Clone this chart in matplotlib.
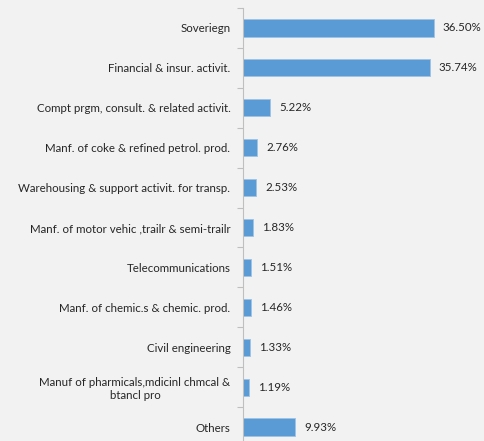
import matplotlib.pyplot as plt

categories = [
    "Soveriegn",
    "Financial & insur. activit.",
    "Compt prgm, consult. & related activit.",
    "Manf. of coke & refined petrol. prod.",
    "Warehousing & support activit. for transp.",
    "Manf. of motor vehic ,trailr & semi-trailr",
    "Telecommunications",
    "Manf. of chemic.s & chemic. prod.",
    "Civil engineering",
    "Manuf of pharmicals,mdicinl chmcal &\nbtancl pro",
    "Others",
]
shares = [36.50, 35.74, 5.22, 2.76, 2.53, 1.83, 1.51, 1.46, 1.33, 1.19, 9.93]

bg = "#f2f2f2"
plt.rcParams["font.family"] = ["Lato", "DejaVu Sans"]

fig = plt.figure(figsize=(4.85, 4.41), dpi=100, facecolor=bg)
ax = fig.add_axes([243 / 485, 1 - 447 / 441, 242 / 485, 439 / 441])
ax.set_facecolor(bg)

pos = list(range(len(categories)))
ax.barh(pos, shares, height=0.43, color="#5b9bd5", edgecolor="#9dc3e6", linewidth=0.6)

for y, v in zip(pos, shares):
    ax.annotate(f"{v:.2f}%", (v, y), xytext=(6.5, 0), textcoords="offset points",
                va="center", ha="left", fontsize=8.3, color="#262626")

ax.set_xlim(0, 46.3)
ax.set_ylim(len(categories) - 0.5, -0.5)
ax.set_yticks(pos)
ax.set_yticklabels(categories, fontsize=8.3, color="#262626", multialignment="center")
ax.tick_params(axis="y", which="major", length=0, pad=9)
ax.set_yticks([p - 0.5 for p in pos] + [len(pos) - 0.5], minor=True)
ax.tick_params(axis="y", which="minor", length=4, color="#bfbfbf", width=0.8)
ax.set_xticks([])

for s in ["top", "right", "bottom"]:
    ax.spines[s].set_visible(False)
ax.spines["left"].set_color("#bfbfbf")
ax.spines["left"].set_linewidth(0.8)

fig.savefig("out.png", dpi=100, facecolor=bg)
